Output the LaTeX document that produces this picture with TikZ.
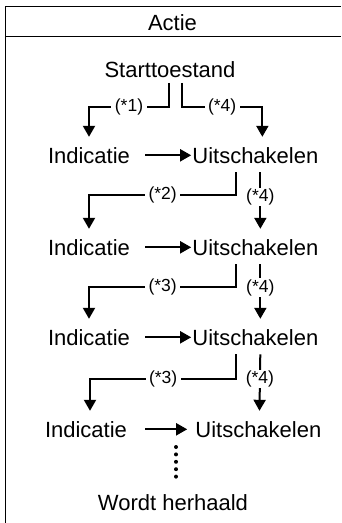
\documentclass[tikz,border=0pt]{standalone}
\usepackage{fontspec}
\setmainfont{Liberation Sans}
\usetikzlibrary{arrows.meta,positioning}
\tikzset{
 state/.style={inner sep=1pt,text height=16pt,text depth=4.6pt,anchor=base,
               font=\fontsize{22}{26}\selectfont},
 lbl/.style={fill=white,inner xsep=3.5pt,inner ysep=1pt,font=\fontsize{17.5}{20}\selectfont},
 arrow/.style={-{Triangle[length=11pt,width=12pt]},line width=2pt,shorten >=9pt},
 frame/.style={line width=1.2pt},
 dotline/.style={line width=4pt,line cap=round,dash pattern=on 0pt off 7.4pt},
}

\begin{document}
\begin{tikzpicture}[x=1pt,y=-1pt]
\useasboundingbox (0,0) rectangle (341,523);
\draw[frame] (5.5,523) -- (5.5,6.5) -- (341,6.5);
\draw[frame] (5.5,36.5) -- (341,36.5);
\node[state] (actie) at (172.5,30) {Actie};
\node[state] (start) at (170,77) {Starttoestand};
\node[state] (ind1) at (89,163) {Indicatie};
\node[state,right=60pt of ind1] (uit1) {Uitschakelen};
\node[state] (ind2) at (89,255) {Indicatie};
\node[state,right=60pt of ind2] (uit2) {Uitschakelen};
\node[state] (ind3) at (89,345) {Indicatie};
\node[state,right=60pt of ind3] (uit3) {Uitschakelen};
\node[state] (ind4) at (86,437) {Indicatie};
\node[state,right=66pt of ind4] (uit4) {Uitschakelen};
\node[state] (wordt) at (173,510) {Wordt herhaald};
% start
\draw[arrow] ([xshift=-1pt]start.south) -- ++(0,24) -| node[lbl,pos=0.25]{(*1)} (ind1.north);
\draw[arrow] ([xshift=12pt]start.south) -- ++(0,24) -| node[lbl,pos=0.25]{(*4)} ([xshift=7pt]uit1.north);
% rows
\draw[arrow,shorten >=0pt,shorten <=14pt] ([yshift=2pt]ind1.east) -- ([yshift=2pt]uit1.west);
\draw[arrow,shorten <=3.5pt] ([xshift=-19pt]uit1.south) -- ++(0,26) -| node[lbl,pos=0.25]{(*2)} (ind2.north);
\draw[arrow,shorten <=3.5pt] ([xshift=5pt]uit1.south) -- node[lbl,pos=0.41]{(*4)} ([xshift=5pt]uit2.north);
\draw[arrow,shorten >=0pt,shorten <=14pt] ([yshift=2pt]ind2.east) -- ([yshift=2pt]uit2.west);
\draw[arrow,shorten <=3.5pt] ([xshift=-19pt]uit2.south) -- ++(0,26) -| node[lbl,pos=0.25]{(*3)} (ind3.north);
\draw[arrow,shorten <=3.5pt] ([xshift=5pt]uit2.south) -- node[lbl,pos=0.4]{(*4)} ([xshift=5pt]uit3.north);
\draw[arrow,shorten >=0pt,shorten <=14pt] ([yshift=2pt]ind3.east) -- ([yshift=2pt]uit3.west);
\draw[arrow,shorten <=3.5pt] ([xshift=-19pt]uit3.south) -- ++(0,28) -| node[lbl,pos=0.25]{(*3)} ([xshift=4pt]ind4.north);
\draw[arrow,shorten <=3.5pt] ([xshift=5pt]uit3.south) -- node[lbl,pos=0.41]{(*4)} ([xshift=1pt]uit4.north);
\draw[arrow,shorten >=7pt,shorten <=17pt] ([yshift=2pt]ind4.east) -- ([yshift=2pt]uit4.west);
% repeat
\coordinate (rep) at (176,447);
\draw[dotline] (rep) -- ([xshift=3pt,yshift=9pt]wordt.north);
\end{tikzpicture}
\end{document}
